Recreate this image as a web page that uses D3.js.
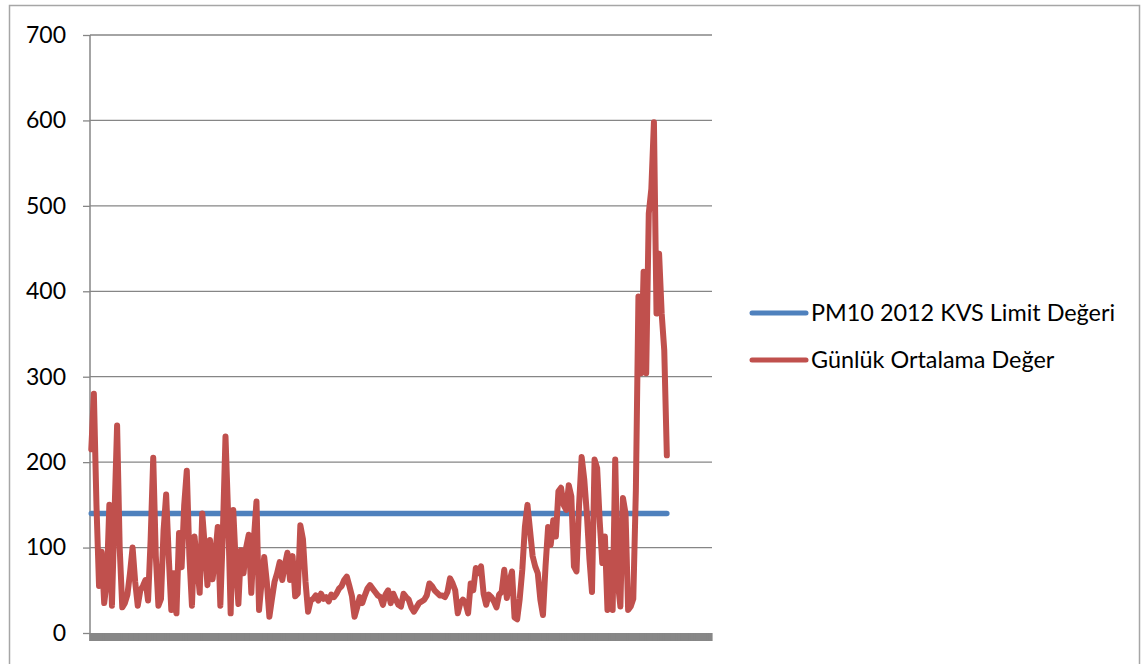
<!DOCTYPE html>
<html>
<head>
<meta charset="utf-8">
<script src="https://cdn.jsdelivr.net/npm/d3@7"></script>
<style>
  body { margin: 0; background: #fff; }
  svg { display: block; }
  text { font-family: Lato, "Open Sans", sans-serif; fill: #000; }
</style>
</head>
<body>
<svg id="chart" width="1147" height="664"></svg>
<script>
// Daily mean PM10 concentrations (µg/m³)
const dailyMean = [
  215, 280, 150, 55, 95, 35, 60, 150, 32, 140,
  243, 100, 30, 35, 45, 70, 100, 60, 32, 50,
  55, 62, 38, 110, 205, 90, 32, 40, 120, 162,
  90, 27, 70, 23, 117, 77, 150, 190, 90, 32,
  113, 80, 47, 140, 100, 56, 109, 63, 90, 124,
  32, 120, 230, 140, 23, 144, 80, 34, 97, 70,
  100, 115, 47, 110, 154, 27, 60, 89, 60, 19,
  40, 60, 70, 83, 62, 80, 94, 62, 90, 43,
  46, 126, 110, 60, 25, 38, 40, 44, 38, 46,
  40, 42, 37, 45, 42, 46, 52, 55, 62, 66,
  55, 43, 19, 30, 42, 35, 44, 52, 56, 52,
  48, 44, 42, 33, 45, 50, 35, 46, 39, 33,
  31, 46, 42, 39, 30, 25, 30, 35, 37, 39,
  44, 58, 55, 50, 47, 44, 44, 42, 48, 64,
  58, 50, 23, 35, 39, 35, 23, 58, 50, 76,
  70, 78, 46, 33, 45, 42, 37, 30, 45, 48,
  74, 41, 60, 72, 18, 16, 40, 74, 124, 150,
  120, 90, 78, 70, 39, 21, 78, 124, 103, 132,
  113, 166, 170, 150, 144, 173, 160, 78, 72, 150,
  206, 180, 140, 87, 48, 203, 193, 130, 82, 113,
  27, 94, 27, 203, 60, 31, 158, 140, 27, 31,
  40, 167, 394, 304, 423, 304, 491, 520, 598, 374,
  444, 374, 331, 208
];
// 2012 limit value for daily PM10
const limitValue = 140;
const yTicks = [0, 100, 200, 300, 400, 500, 600, 700];
const seriesNames = ["PM10 2012 KVS Limit Değeri", "Günlük Ortalama Değer"];
const seriesColors = ["#4F81BD", "#C0504D"];
// category slots on the horizontal axis (days)
const slotCount = 241;
const days = d3.range(slotCount);

const svg = d3.select("#chart");

// outer chart frame
svg.append("rect")
  .attr("x", 9.5).attr("y", 5.5)
  .attr("width", 1130).attr("height", 700)
  .attr("fill", "none").attr("stroke", "#a6a6a6").attr("stroke-width", 1.5);

const plot = { left: 90, right: 712, top: 35, bottom: 633 };

const x = d3.scaleBand().domain(days).range([plot.left, plot.right]);
const y = d3.scaleLinear().domain([0, 700]).range([plot.bottom, plot.top]);
const bw = x.bandwidth();
const cx = i => x(i) + bw / 2;

// horizontal gridlines
svg.append("g")
  .selectAll("line")
  .data(yTicks.filter(t => t > 0))
  .join("line")
  .attr("x1", plot.left).attr("x2", plot.right)
  .attr("y1", d => y(d)).attr("y2", d => y(d))
  .attr("stroke", "#868686").attr("stroke-width", 1.3);

// vertical axis with labels
const yAxis = svg.append("g")
  .attr("transform", `translate(${plot.left},0)`)
  .call(d3.axisLeft(y).tickValues(yTicks).tickSize(7).tickPadding(17).tickFormat(d3.format("d")));
yAxis.select(".domain").remove();
yAxis.selectAll(".tick line").attr("stroke", "#868686").attr("stroke-width", 1.3);
yAxis.selectAll(".tick text")
  .style("font-family", "Lato, 'Open Sans', sans-serif")
  .attr("font-size", 23).attr("fill", "#000");
svg.append("line")
  .attr("x1", plot.left).attr("x2", plot.left)
  .attr("y1", plot.top).attr("y2", plot.bottom + 8)
  .attr("stroke", "#868686").attr("stroke-width", 1.5);

// horizontal category axis: dense day ticks form a solid band
const xAxis = svg.append("g")
  .attr("transform", `translate(0,${plot.bottom})`)
  .call(d3.axisBottom(x).tickSize(8).tickFormat(""));
xAxis.select(".domain").remove();
xAxis.selectAll(".tick line")
  .attr("stroke", "#878787").attr("stroke-width", bw + 1.2);

const line = d3.line()
  .x((d, i) => cx(i))
  .y(d => y(d));

// limit value line
const limitSeries = dailyMean.map(() => limitValue);
svg.append("path")
  .datum(limitSeries)
  .attr("d", line)
  .attr("fill", "none")
  .attr("stroke", seriesColors[0])
  .attr("stroke-width", 5.5)
  .attr("stroke-linecap", "round")
  .attr("stroke-linejoin", "round");

// daily mean line
svg.append("path")
  .datum(dailyMean)
  .attr("d", line)
  .attr("fill", "none")
  .attr("stroke", seriesColors[1])
  .attr("stroke-width", 6)
  .attr("stroke-linecap", "round")
  .attr("stroke-linejoin", "round");

// legend
const legend = svg.append("g");
const legendRows = [313, 360];
seriesNames.forEach((name, k) => {
  legend.append("line")
    .attr("x1", 752).attr("x2", 806)
    .attr("y1", legendRows[k]).attr("y2", legendRows[k])
    .attr("stroke", seriesColors[k])
    .attr("stroke-width", 5)
    .attr("stroke-linecap", "round");
  legend.append("text")
    .attr("x", 811).attr("y", legendRows[k] + 7.5)
    .attr("font-size", 23.4)
    .text(name);
});
</script>
</body>
</html>
